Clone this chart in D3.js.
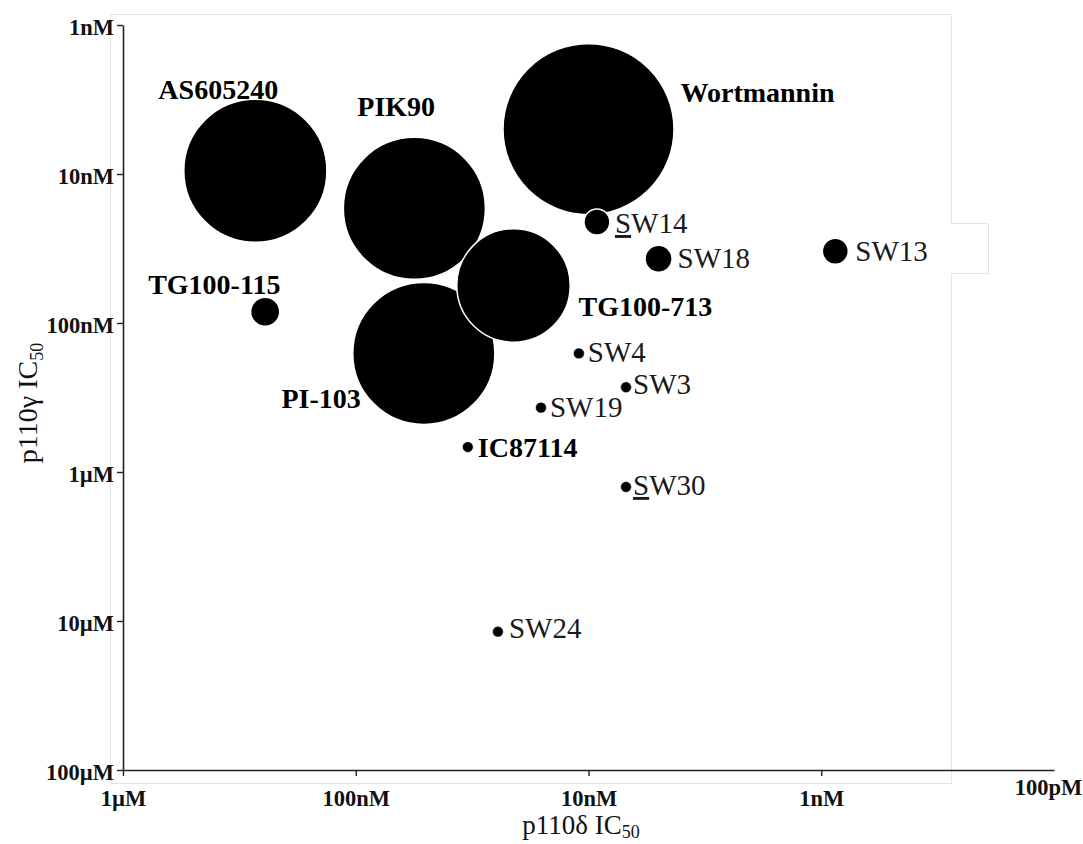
<!DOCTYPE html>
<html>
<head>
<meta charset="utf-8">
<script src="https://cdn.jsdelivr.net/npm/d3@7"></script>
<style>
  html, body { margin: 0; padding: 0; background: #fff; }
  svg { display: block; }
  text { font-family: "Liberation Serif", "Times New Roman", Times, serif; }
</style>
</head>
<body>
<svg id="chart" width="1083" height="844"></svg>
<script>
// PI3K inhibitors: p110δ IC50 vs p110γ IC50 (values in nM), bubble area = relative weight
const compounds = ["AS605240", "PIK90", "Wortmannin", "PI-103", "TG100-713", "TG100-115",
                   "SW14", "SW18", "SW13", "SW4", "SW3", "SW19", "IC87114", "SW30", "SW24"];
const deltaIC50 = [270, 56, 10, 51, 21, 245, 9.2, 5.0, 0.87, 11, 6.9, 16, 33, 6.9, 24.5];
const gammaIC50 = [9.5, 17, 5, 160, 56, 84, 21, 37, 33, 160, 270, 370, 680, 1260, 11800];
const bubbleSize = [70, 69, 100, 69, 44, 2.9, 2.3, 2.5, 2.3, 0.4, 0.4, 0.4, 0.4, 0.4, 0.4];
const group = ["ref", "ref", "ref", "ref", "ref", "ref",
               "SW", "SW", "SW", "SW", "SW", "SW", "ref", "SW", "SW"];

const xTickValues = [1000, 100, 10, 1, 0.1];
const xTickLabels = ["1µM", "100nM", "10nM", "1nM", "100pM"];
const yTickValues = [1, 10, 100, 1000, 10000, 100000];
const yTickLabels = ["1nM", "10nM", "100nM", "1µM", "10µM", "100µM"];

// label placement relative to each marker centre
const labelLayout = {
  "AS605240":   { dx: -97, dy: -72, anchor: "start" },
  "PIK90":      { dx: -57, dy: -92, anchor: "start" },
  "Wortmannin": { dx: 92,  dy: -27, anchor: "start" },
  "PI-103":     { dx: -63, dy: 55,  anchor: "end" },
  "TG100-713":  { dx: 65,  dy: 31,  anchor: "start" },
  "TG100-115":  { dx: -117, dy: -18, anchor: "start" },
  "SW14":       { dx: 18,  dy: 11,  anchor: "start", mark: true },
  "SW18":       { dx: 19,  dy: 9,   anchor: "start" },
  "SW13":       { dx: 20,  dy: 10,  anchor: "start" },
  "SW4":        { dx: 9,   dy: 9,   anchor: "start" },
  "SW3":        { dx: 7,   dy: 7,   anchor: "start" },
  "SW19":       { dx: 9,   dy: 9,   anchor: "start" },
  "IC87114":    { dx: 10,  dy: 10,  anchor: "start" },
  "SW30":       { dx: 7,   dy: 8,   anchor: "start", mark: true },
  "SW24":       { dx: 11,  dy: 6,   anchor: "start" }
};

const svg = d3.select("#chart");

const x = d3.scaleLog().domain([1000, 0.1]).range([123, 1054]);
const y = d3.scaleLog().domain([1, 100000]).range([25, 770]);
const r = d3.scaleSqrt().domain([0, 100]).range([0, 85.5]);

// faint outer frame
const frame = d3.path();
frame.moveTo(110.5, 14.5);
frame.lineTo(951.5, 14.5);
frame.lineTo(951.5, 223.5);
frame.lineTo(988.5, 223.5);
frame.lineTo(988.5, 273.5);
frame.lineTo(951.5, 273.5);
frame.lineTo(951.5, 783.5);
frame.lineTo(110.5, 783.5);
frame.closePath();
svg.append("path").attr("d", frame.toString())
  .attr("fill", "none").attr("stroke", "#e4e4e4").attr("stroke-width", 1);

// axes
const xAxis = d3.axisBottom(x)
  .tickValues(xTickValues)
  .tickFormat((d, i) => xTickLabels[i])
  .tickSize(6).tickSizeOuter(0);
const yAxis = d3.axisLeft(y)
  .tickValues(yTickValues)
  .tickFormat((d, i) => yTickLabels[i])
  .tickSize(6).tickPadding(3).tickSizeOuter(0);

const gx = svg.append("g").attr("transform", `translate(0,${y(100000)})`).call(xAxis);
const gy = svg.append("g").attr("transform", `translate(${x(1000)},0)`).call(yAxis);

[gx, gy].forEach(g => {
  g.select(".domain").attr("stroke", "#222").attr("stroke-width", 1.6);
  g.selectAll(".tick line").attr("stroke", "#222").attr("stroke-width", 1.4);
  g.selectAll(".tick text")
    .attr("fill", "#111")
    .attr("font-family", "'Liberation Serif', 'Times New Roman', serif")
    .attr("font-weight", "bold")
    .attr("font-size", 22.5);
});
gx.selectAll(".tick text").attr("dy", 0).attr("y", 36);
gx.selectAll(".tick").filter(d => d === 0.1).each(function () {
  d3.select(this).select("line").remove();
  d3.select(this).select("text").attr("y", 25).attr("x", -6);
});
gy.selectAll(".tick text").attr("dy", 0).attr("y", 9);

// axis titles
const yTitle = svg.append("text")
  .attr("transform", `translate(37,403) rotate(-90)`)
  .attr("text-anchor", "middle")
  .attr("font-size", 28).attr("fill", "#111");
yTitle.append("tspan").text("p110γ IC");
yTitle.append("tspan").attr("font-size", 18).attr("dy", 6).text("50");

const xTitle = svg.append("text")
  .attr("x", 581).attr("y", 834)
  .attr("text-anchor", "middle")
  .attr("font-size", 27).attr("fill", "#111");
xTitle.append("tspan").text("p110δ IC");
xTitle.append("tspan").attr("font-size", 18).attr("dy", 4).text("50");

// bubbles
const data = compounds.map((name, i) => ({
  name, delta: deltaIC50[i], gamma: gammaIC50[i], size: bubbleSize[i], group: group[i]
}));

svg.append("g").selectAll("circle")
  .data(data)
  .join("circle")
  .attr("cx", d => x(d.delta))
  .attr("cy", d => y(d.gamma))
  .attr("r", d => r(d.size))
  .attr("fill", "#000")
  .attr("stroke", "#fff")
  .attr("stroke-width", d => d.size > 1 ? 1.5 : 0.5);

// compound labels
const labels = svg.append("g").selectAll("text")
  .data(data)
  .join("text")
  .attr("x", d => x(d.delta) + labelLayout[d.name].dx)
  .attr("y", d => y(d.gamma) + labelLayout[d.name].dy)
  .attr("text-anchor", d => labelLayout[d.name].anchor)
  .attr("font-weight", d => d.group === "ref" ? "bold" : "normal")
  .attr("font-size", d => d.group === "ref" ? 28 : 29)
  .attr("fill", d => d.group === "ref" ? "#000" : "#1a1a1a");

labels.each(function (d) {
  const t = d3.select(this);
  if (labelLayout[d.name].mark) {
    t.append("tspan").attr("text-decoration", "underline").text(d.name.slice(0, 1));
    t.append("tspan").text(d.name.slice(1));
  } else {
    t.text(d.name);
  }
});
</script>
</body>
</html>
